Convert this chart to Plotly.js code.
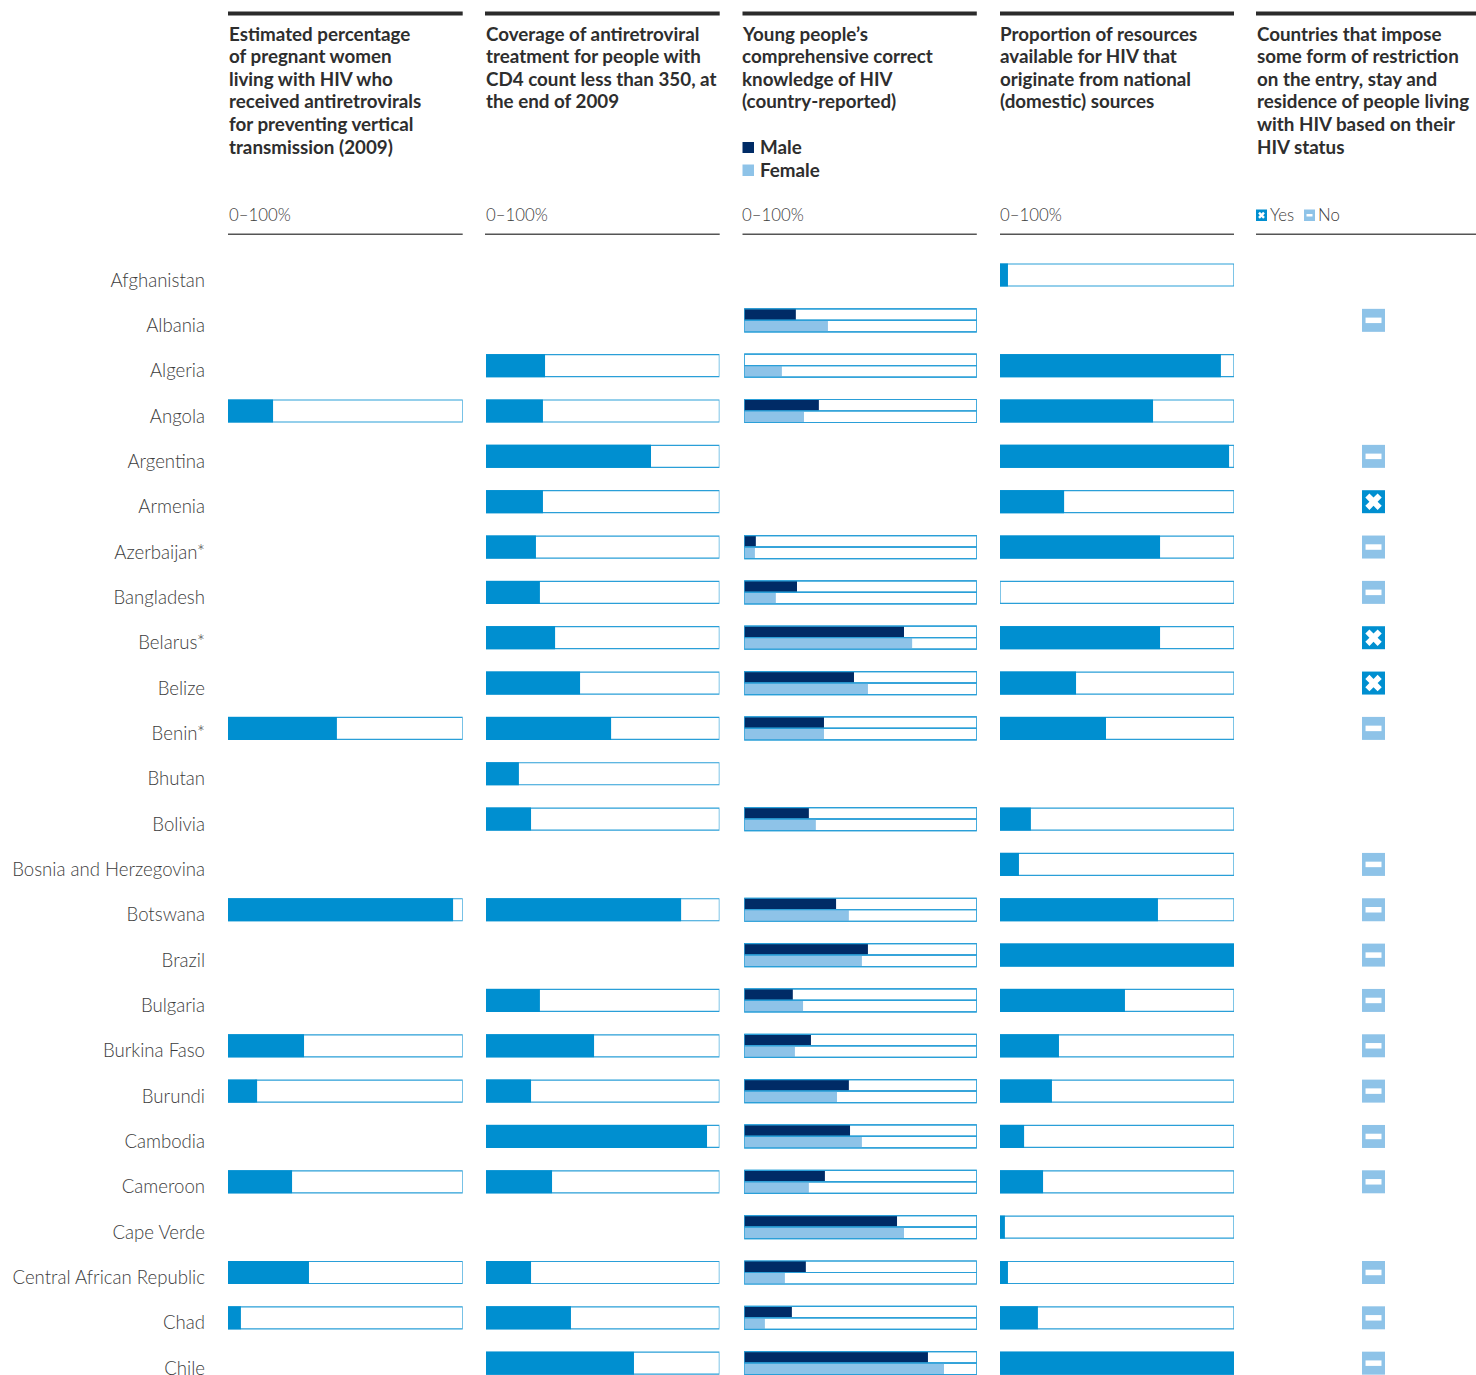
<!DOCTYPE html>
<html><head><meta charset="utf-8">
<script src="https://cdn.plot.ly/plotly-3.0.1.min.js"></script>
<style>html,body{margin:0;padding:0;background:#fff}</style></head>
<body><div id="chart" style="width:1476px;height:1375px"></div>
<script>
const countries = ["Afghanistan","Albania","Algeria","Angola","Argentina","Armenia","Azerbaijan*","Bangladesh","Belarus*","Belize","Benin*","Bhutan","Bolivia","Bosnia and Herzegovina","Botswana","Brazil","Bulgaria","Burkina Faso","Burundi","Cambodia","Cameroon","Cape Verde","Central African Republic","Chad","Chile"];
const pregnant = [null,null,null,19.2,null,null,null,null,null,null,46.4,null,null,null,95.9,null,null,32.4,12.4,null,27.3,null,34.5,5.5,null];
const treatment = [null,null,25.3,24.4,70.7,24.4,21.4,23.1,29.6,40.3,53.6,14.1,19.3,null,83.6,null,23.1,46.3,19.3,94.7,28.3,null,19.3,36.4,63.4];
const knowledgeMale = [null,22.2,0,32.1,null,null,5,22.7,68.7,47.2,34.3,null,27.8,null,39.5,53.2,20.9,28.7,45,45.5,34.7,65.7,26.5,20.5,79];
const knowledgeFemale = [null,36,16.2,25.7,null,null,4.6,13.6,72.2,53.2,34.3,null,30.8,null,45,50.6,25.3,21.8,39.9,50.6,27.8,68.7,17.5,8.9,85.9];
const domestic = [3.4,null,94.4,65.4,97.9,27.4,68.4,0,68.4,32.5,45.3,null,13.2,8.1,67.5,100,53.4,25.2,22.2,10.3,18.4,2.1,3.4,16.2,100];
const restriction = [null,"No",null,null,"No","Yes","No","No","Yes","Yes","No",null,null,"No","No","No","No","No","No","No","No",null,"No","No","No"];
const headings = [
 ["Estimated percentage","of pregnant women","living with HIV who","received antiretrovirals","for preventing vertical","transmission (2009)"],
 ["Coverage of antiretroviral","treatment for people with","CD4 count less than 350, at","the end of 2009"],
 ["Young people’s","comprehensive correct","knowledge of HIV","(country-reported)"],
 ["Proportion of resources","available for HIV that","originate from national","(domestic) sources"],
 ["Countries that impose","some form of restriction","on the entry, stay and","residence of people living","with HIV based on their","HIV status"]];
const rangeLabel = "0–100%";

const W=1476,H=1375,STEP=45.34,ROW0=275;
const BLUE="#008fd0",NAVY="#002b66",LIGHT="#8ec3e8",EDGE="#2a9fd8",INK="#2e2e2e",SOFT="#3c3c3c";
const HEAD="Lato, sans-serif", BODY="Lato, sans-serif";
const panels=[[228,462.7],[486,719.4],[744.2,976.8],[1000,1234],[1256,1476]];
const headX=[226.5,483.5,739.5,998,1255];
const ruleX=[[228,462.7],[485,719.7],[742.5,976.8],[1000,1234],[1256,1476]];
const px=x=>x/W, py=y=>1-y/H;
const fullH=23/STEP, halfH=11.5/STEP;

function track(vals,xa,off,h){
  const idx=vals.map((v,i)=>v===null?-1:i).filter(i=>i>=0);
  return {type:'bar',orientation:'h',xaxis:xa,yaxis:'y',y:idx.map(i=>countries[i]),x:idx.map(()=>100),width:h,offset:off,cliponaxis:false,hoverinfo:'skip',showlegend:false};
}
function fill(vals,xa,off,h,color){
  const idx=vals.map((v,i)=>v===null?-1:i).filter(i=>i>=0);
  return {type:'bar',orientation:'h',xaxis:xa,yaxis:'y',y:idx.map(i=>countries[i]),x:idx.map(i=>vals[i]),width:h,offset:off,cliponaxis:false,marker:{color:color,line:{width:0}},showlegend:false};
}
const bg={color:'#fff',line:{color:EDGE,width:1.2}};
const outline={color:'rgba(0,0,0,0)',line:{color:EDGE,width:1.2}};
const traces=[];
[[pregnant,'x'],[treatment,'x2'],[domestic,'x4']].forEach(([v,xa])=>{
  traces.push(Object.assign(track(v,xa,-(fullH-1/STEP)/2,fullH-1/STEP),{marker:bg}));
  traces.push(fill(v,xa,-fullH/2,fullH,BLUE));
});
[[knowledgeMale,-halfH,NAVY],[knowledgeFemale,0,LIGHT]].forEach(([v,off,c])=>{
  traces.push(Object.assign(track(v,'x3',off,halfH),{marker:bg}));
  traces.push(fill(v,'x3',off,halfH,c));
  traces.push(Object.assign(track(v,'x3',off,halfH),{marker:outline}));
});
function rIdx(k){return restriction.map((v,i)=>v===k?i:-1).filter(i=>i>=0);}
const no=rIdx("No"),yes=rIdx("Yes");
const sc=(idx,sym,size,color,line)=>({type:'scatter',mode:'markers',xaxis:'x5',yaxis:'y',cliponaxis:false,
  x:idx.map(()=>50),y:idx.map(i=>countries[i]),showlegend:false,hoverinfo:'skip',
  marker:{symbol:sym,size:size,color:color,line:line||{width:0}}});
traces.push(sc(no,'square',23,LIGHT));
traces.push(sc(no,'line-ew',11.4,'#fff',{color:'#fff',width:5.5}));
traces.push(sc(yes,'square',23,BLUE));
traces.push(sc(yes,'x',14.5,'#fff'));

const layout={width:W,height:H,margin:{l:0,r:0,t:0,b:0,pad:0},paper_bgcolor:'#fff',plot_bgcolor:'#fff',barmode:'overlay',showlegend:false,
  yaxis:{type:'category',categoryorder:'array',categoryarray:countries,tickvals:countries,ticktext:countries,
    range:[(H-ROW0)/STEP,-ROW0/STEP],autorange:false,showgrid:false,zeroline:false,showline:false,ticks:'',
    anchor:'x',ticklabelstandoff:22,ticklabelshift:-5,tickfont:{family:BODY,size:18.6,color:SOFT,weight:300}},
  annotations:[],shapes:[]};
panels.forEach((p,i)=>{
  const k=i?'xaxis'+(i+1):'xaxis';
  layout[k]={domain:[px(p[0]),px(p[1])],range:i===4?[0,93.6]:[0,100],autorange:false,fixedrange:true,anchor:'y',visible:false,showgrid:false,zeroline:false};
});
const ann=(x,y,text,o)=>layout.annotations.push(Object.assign({xref:'paper',yref:'paper',x:px(x),y:py(y),text:text,showarrow:false,xanchor:'left',yanchor:'middle',align:'left'},o));
const headFont={family:HEAD,size:18.8,color:INK,weight:700};
const lightFont={family:BODY,size:16.8,color:SOFT,weight:300};
headings.forEach((lines,i)=>lines.forEach((t,j)=>ann(headX[i],33.2+22.6*j,t,{font:headFont})));
for(let i=0;i<4;i++) ann(headX[i],214.5,rangeLabel,{font:lightFont});
ann(758,146.2,"Male",{font:headFont}); ann(758,169.2,"Female",{font:headFont});
ann(1268,214.5,"Yes",{font:lightFont}); ann(1316,214.5,"No",{font:lightFont});
const rect=(x0,y0,x1,y1,c)=>layout.shapes.push({type:'rect',xref:'paper',yref:'paper',x0:px(x0),x1:px(x1),y0:py(y0),y1:py(y1),fillcolor:c,line:{width:0},layer:'above'});
const seg=(x0,y0,x1,y1)=>layout.shapes.push({type:'line',xref:'paper',yref:'paper',x0:px(x0),x1:px(x1),y0:py(y0),y1:py(y1),line:{color:'#fff',width:2.4},layer:'above'});
ruleX.forEach(r=>{rect(r[0],11.5,r[1],15.5,'#2b2b2b');rect(r[0],233.6,r[1],235,'#555');});
rect(742.5,142,754,153,NAVY); rect(742.5,164.5,754,176,LIGHT);
rect(1256,209.5,1267,221,BLUE); rect(1304,209.5,1315,221,LIGHT);
rect(1306.5,214,1312.5,216.5,'#fff');
seg(1259,212.7,1264,217.8); seg(1259,217.8,1264,212.7);

Plotly.newPlot('chart',traces,layout,{displayModeBar:false,staticPlot:true});
</script></body></html>
